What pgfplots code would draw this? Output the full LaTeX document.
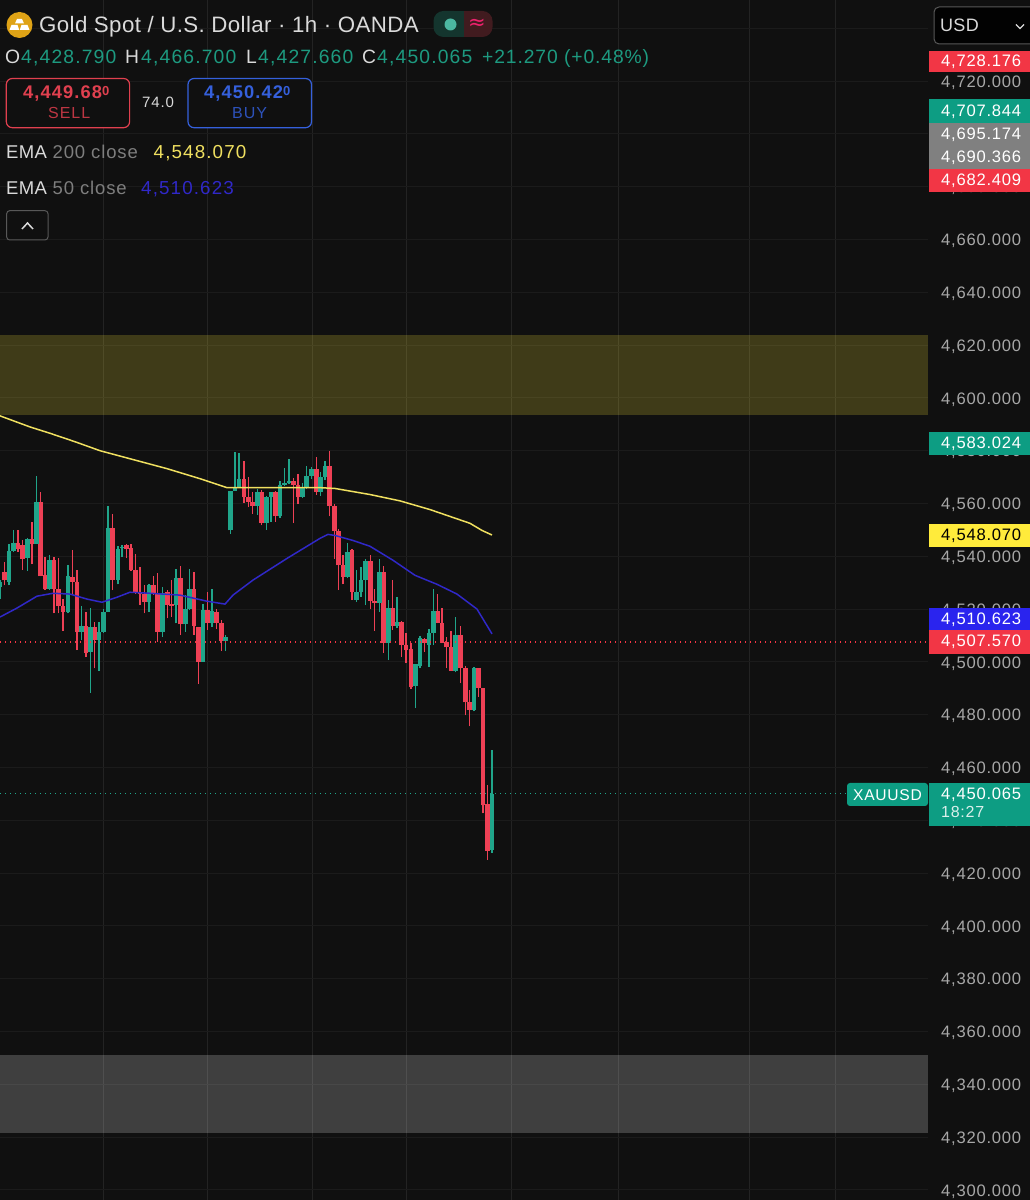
\documentclass[border=0pt]{standalone}
\usepackage{fontspec}
\usepackage{pgfplots}
\usepackage{pgfplotstable}
\pgfplotsset{compat=1.18}
\setmainfont[LetterSpace=1.7]{Liberation Sans}
\newfontfamily\pf[LetterSpace=4.6]{Liberation Sans}
\newfontfamily\nf[LetterSpace=6]{Liberation Sans}
\newfontfamily\sym{DejaVu Sans}
\definecolor{bg}{HTML}{101010}
\definecolor{gridc}{HTML}{1B1B1B}
\definecolor{vgrid}{HTML}{232323}
\definecolor{up}{HTML}{20A58A}
\definecolor{down}{HTML}{EE4055}
\definecolor{lblred}{HTML}{F23645}
\definecolor{lblgreen}{HTML}{0D9D83}
\definecolor{lblgray}{HTML}{808080}
\definecolor{lblyellow}{HTML}{FFEB3B}
\definecolor{lblblue}{HTML}{2A24EE}
\definecolor{emay}{HTML}{F0E060}
\definecolor{emab}{HTML}{3028C8}
\definecolor{ticktxt}{HTML}{A8A8A8}
\definecolor{txtgreen}{HTML}{1D9A80}
\definecolor{txtwhite}{HTML}{DADADA}
\definecolor{txtgray}{HTML}{7E7E7E}
\definecolor{gold}{HTML}{DFA316}
\definecolor{sellc}{HTML}{E0404F}
\definecolor{buyc}{HTML}{3560DC}

\pgfplotstableread{
x l h bl bh
0.0 4524.0 4530.9 4528.4 4530.3
9.0 4529.0 4544.8 4530.3 4541.9
13.3 4541.6 4549.8 4541.9 4545.2
27.3 4534.5 4547.0 4539.4 4546.4
36.3 4544.8 4570.6 4544.8 4560.4
49.7 4527.2 4540.4 4527.8 4538.5
68.0 4518.4 4536.6 4519.0 4532.4
81.7 4508.3 4521.1 4511.4 4513.6
90.3 4488.4 4520.6 4503.9 4513.3
99.0 4496.7 4515.2 4508.3 4511.4
103.7 4511.0 4520.2 4511.4 4519.0
108.0 4519.0 4559.1 4519.0 4550.8
118.0 4529.4 4543.8 4531.2 4542.9
122.0 4539.7 4544.4 4543.1 4543.5
149.0 4519.0 4529.7 4522.8 4529.3
162.3 4509.5 4528.4 4511.4 4526.2
176.0 4514.6 4535.3 4521.5 4531.9
185.3 4511.4 4525.3 4514.2 4519.9
189.7 4519.6 4535.3 4519.9 4527.8
203.0 4500.1 4522.1 4500.1 4519.6
212.0 4513.3 4527.7 4514.6 4519.4
225.7 4504.1 4510.2 4507.9 4509.3
230.5 4548.5 4564.9 4549.8 4564.9
235.0 4564.9 4579.6 4564.9 4566.2
239.0 4566.2 4579.2 4566.2 4569.1
257.3 4555.8 4565.5 4559.2 4564.5
266.7 4550.1 4563.0 4552.6 4562.6
271.0 4553.0 4564.3 4562.6 4564.3
280.0 4554.5 4568.4 4555.1 4567.0
284.3 4566.8 4573.5 4567.0 4567.7
289.0 4567.4 4576.9 4567.7 4568.7
302.3 4562.1 4567.7 4562.6 4566.4
306.7 4565.5 4574.3 4566.4 4570.6
311.7 4569.3 4574.0 4570.6 4573.1
320.7 4563.0 4571.8 4564.3 4569.9
325.0 4568.9 4576.2 4570.2 4574.3
347.7 4531.6 4545.0 4532.2 4541.6
356.7 4522.8 4535.0 4523.4 4526.5
361.0 4524.6 4536.0 4526.5 4530.9
365.7 4521.5 4539.1 4530.9 4538.2
379.3 4519.0 4539.1 4522.4 4534.1
388.3 4500.7 4523.4 4507.0 4520.3
397.0 4512.7 4524.7 4513.6 4515.2
415.3 4482.5 4499.2 4490.7 4499.2
420.0 4497.6 4509.8 4498.5 4508.9
429.0 4498.0 4512.3 4506.4 4510.8
433.3 4506.4 4527.8 4510.8 4519.4
455.7 4496.0 4517.1 4496.7 4510.2
474.0 4481.3 4498.2 4481.9 4497.6
492.0 4427.66 4466.7 4428.79 4450.065
}\greens

\pgfplotstableread{
x l h bl bh
4.7 4529.0 4537.9 4530.9 4534.1
18.0 4541.6 4550.1 4542.9 4545.2
22.7 4535.0 4546.0 4539.1 4544.1
32.0 4537.0 4553.0 4544.8 4546.4
40.7 4532.4 4564.3 4532.4 4560.4
45.0 4527.2 4539.7 4527.5 4532.8
54.0 4518.4 4539.7 4527.5 4538.5
58.7 4518.4 4539.5 4521.1 4527.5
63.0 4511.8 4524.0 4519.0 4521.1
72.7 4525.3 4542.5 4530.3 4532.2
77.0 4504.5 4534.7 4511.4 4530.3
86.0 4501.8 4519.0 4503.5 4513.6
94.7 4497.6 4515.2 4508.3 4513.3
112.7 4527.2 4555.9 4531.2 4550.8
126.7 4539.5 4544.5 4542.9 4544.1
131.0 4534.5 4544.8 4535.0 4543.1
135.7 4525.9 4540.7 4526.2 4535.0
140.0 4521.5 4536.0 4525.9 4526.2
144.3 4518.4 4529.3 4522.8 4525.9
153.3 4525.3 4532.4 4526.2 4529.0
157.7 4507.7 4533.8 4511.4 4526.2
167.3 4516.5 4527.2 4521.5 4526.5
171.7 4517.1 4531.0 4521.3 4521.8
180.7 4510.2 4536.2 4514.2 4531.9
194.0 4510.2 4534.1 4513.6 4527.8
198.7 4491.7 4513.3 4500.1 4513.3
207.7 4512.1 4526.5 4514.6 4519.6
216.7 4512.3 4519.9 4514.8 4519.0
221.3 4504.1 4515.8 4507.9 4514.8
244.0 4560.1 4576.2 4562.4 4569.1
248.3 4558.6 4569.9 4560.5 4562.4
252.7 4556.1 4564.3 4559.2 4560.7
261.7 4551.7 4565.2 4552.6 4564.5
275.7 4553.0 4564.7 4555.1 4564.3
293.3 4552.6 4569.7 4567.0 4568.7
298.0 4559.9 4571.2 4562.6 4567.0
316.3 4563.4 4577.5 4564.3 4573.1
329.7 4555.1 4579.7 4559.2 4574.3
334.3 4539.1 4559.9 4549.6 4559.2
338.7 4527.4 4550.4 4536.6 4549.6
343.0 4529.4 4540.4 4532.2 4536.6
352.0 4523.4 4542.9 4526.5 4542.3
370.3 4519.9 4540.5 4523.1 4538.2
374.7 4511.8 4527.8 4522.4 4523.1
383.7 4503.5 4536.2 4507.0 4534.1
392.7 4512.1 4531.2 4513.6 4520.3
401.7 4502.0 4515.5 4506.4 4515.2
406.0 4499.5 4510.8 4504.5 4506.4
411.0 4489.7 4507.0 4490.4 4504.8
424.3 4503.9 4508.9 4507.3 4508.6
437.7 4514.6 4525.9 4514.6 4519.4
442.0 4507.0 4520.6 4507.3 4514.6
446.7 4497.6 4509.3 4505.5 4507.7
451.0 4496.7 4511.8 4496.7 4505.5
460.7 4492.0 4513.7 4497.6 4510.2
465.3 4479.8 4498.6 4484.7 4497.6
469.7 4475.6 4489.2 4481.9 4484.7
478.7 4486.9 4497.6 4490.1 4497.6
483.0 4442.6 4490.3 4445.7 4490.1
487.3 4425.0 4453.2 4428.4 4446.0
}\reds

\newcommand\candles[2]{%
 \addplot[draw=none, no marks, forget plot, error bars/.cd, y dir=plus, y explicit, error mark=none,
   error bar style={draw=#2, line width=1.5pt}]
   table[x=x, y=l, y error plus expr=\thisrow{h}-\thisrow{l}] {#1};
 \addplot[draw=none, no marks, forget plot, error bars/.cd, y dir=plus, y explicit, error mark=none,
   error bar style={draw=#2, line width=4.6pt}]
   table[x=x, y=bl, y error plus expr=\thisrow{bh}-\thisrow{bl}] {#1};
}
\newcommand\ptag[6]{%
 \fill[#3] (929,#1) rectangle (1030,#2);
 \node[anchor=base west, inner sep=0pt, text=#4] at (941,#5) {\pf\fontsize{16.6}{18}\selectfont #6};
}
\newcommand\txt[5]{\node[anchor=base west, inner sep=0pt, text=#3] at (#1,#2) {\fontsize{#4}{#4}\selectfont #5};}

\begin{document}
\begin{tikzpicture}[x=1pt,y=1pt]
\clip (0,0) rectangle (1030pt,1200pt);
\fill[bg] (0,0) rectangle (1030pt,1200pt);
\begin{axis}[
  at={(0pt,0pt)}, anchor=south west,
  scale only axis, width=928pt, height=1200pt,
  xmin=0, xmax=928, ymin=4296.2, ymax=4750.7,
  axis line style={draw=none}, tick style={draw=none},
  clip=true,
  xtick={103,207,312,406,511,618,749,835}, xticklabels={},
  ytick={4300,4320,...,4740},
  grid=both,
  x grid style={vgrid, line width=1pt},
  y grid style={gridc, line width=1pt},
  yticklabel pos=right,
  yticklabel style={anchor=west, inner sep=0pt, xshift=13pt, yshift=-1.5pt, text=ticktxt, font=\pf\fontsize{16.6}{18}\selectfont,
    /pgf/number format/.cd, fixed, precision=3, fixed zerofill, 1000 sep={,}, assume math mode=true},
]
\addplot[fill=lblyellow, fill opacity=0.2, draw=none, forget plot] coordinates {(0,4593.5) (928,4593.5) (928,4623.8) (0,4623.8)} -- cycle;
\addplot[fill=white, fill opacity=0.2, draw=none, forget plot] coordinates {(0,4321.5) (928,4321.5) (928,4351.1) (0,4351.1)} -- cycle;

\candles{\reds}{down}
\candles{\greens}{up}

\addplot[emay, line width=1.5pt, forget plot] coordinates {
(0,4593.2) (30,4589.0) (50,4586.6) (75,4583.4) (100,4580.0) (167,4573.2) (200,4569.4) (227,4566.0) (250,4566.0) (320,4566.0) (335,4565.7) (370,4563.4) (400,4561.0) (430,4557.7) (470,4552.5) (482,4549.8) (492,4548.07)
};
\addplot[emab, line width=1.5pt, forget plot] coordinates {
(0,4517.0) (17,4520.4) (37,4524.9) (53,4526.0) (70,4525.7) (87,4523.8) (102,4522.6) (117,4524.5) (130,4526.4) (150,4526.0) (180,4525.3) (207,4523.0) (225,4521.9) (233,4525.3) (253,4531.0) (287,4539.2) (320,4546.8) (328,4548.3) (335,4547.9) (353,4546.0) (370,4543.8) (393,4538.5) (415,4532.8) (437,4529.4) (457,4525.7) (477,4520.0) (485,4515.0) (492,4510.623)
};
\addplot[lblred, line width=1.2pt, dash pattern=on 1.2pt off 3.8pt, forget plot] coordinates {(0,4507.57) (928,4507.57)};
\addplot[up, line width=1.2pt, dash pattern=on 1.2pt off 3.8pt, forget plot] coordinates {(0,4450.065) (847,4450.065)};
\end{axis}

\begin{scope}[yscale=-1, yshift=-1200pt]
% --- right-hand tags
\ptag{51}{72}{lblred}{white}{67}{4,728.176}
\ptag{99}{123}{lblgreen}{white}{116.5}{4,707.844}
\ptag{123}{146}{lblgray}{white}{140}{4,695.174}
\ptag{146}{169}{lblgray}{white}{162.5}{4,690.366}
\ptag{169}{192}{lblred}{white}{186}{4,682.409}
\ptag{432}{455}{lblgreen}{white}{449}{4,583.024}
\ptag{524}{547}{lblyellow}{black}{541}{4,548.070}
\ptag{608}{630}{lblblue}{white}{625}{4,510.623}
\ptag{630}{654}{lblred}{white}{647}{4,507.570}
\ptag{783}{826}{lblgreen}{white}{799.5}{4,450.065}
\node[anchor=base west, inner sep=0pt, text=white!85!lblgreen] at (941,818) {\pf\fontsize{16}{18}\selectfont 18:27};
\fill[lblgreen, rounded corners=3pt] (847,783) rectangle (928,806);
\node[anchor=base west, inner sep=0pt, text=white] at (853,800.5) {\pf\fontsize{15.6}{18}\selectfont XAUUSD};
% --- USD box
\draw[fill=black!85!bg, draw=white!30!bg, line width=1pt, rounded corners=5pt] (934,7) rectangle (1036,44);
\txt{940}{32}{txtwhite}{18}{USD}
\draw[txtwhite, line width=1.3pt] (1016,24.5) -- (1020,28.5) -- (1024,24.5);
% --- header
\fill[gold] (19.5,25) circle (13);
\fill[white] (17,19) -- (22,19) -- (24,23.5) -- (15,23.5) -- cycle;
\fill[white] (11.5,25) -- (17.5,25) -- (19.2,30) -- (9.5,30) -- cycle;
\fill[white] (21.5,25) -- (27.5,25) -- (29.5,30) -- (19.8,30) -- cycle;
\txt{39}{33}{txtwhite}{22.3}{Gold Spot / U.S. Dollar · 1h · OANDA}
\fill[up!25!bg, rounded corners=10pt] (433.5,11) rectangle (464,37);
\fill[up!25!bg] (455,11) rectangle (464,37);
\fill[down!22!bg, rounded corners=10pt] (464,11) rectangle (492.5,37);
\fill[down!22!bg] (464,11) rectangle (473,37);
\fill[up!80!white] (450.5,24.5) circle (6);
\node[text=magenta!60!red!90!white, inner sep=0pt] at (477,24.5) {\sym\fontsize{21}{21}\selectfont ≈};
% OHLC
\txt{5}{64}{txtwhite}{19.3}{O}
\txt{21}{64}{txtgreen}{19.3}{\nf 4,428.790}
\txt{125}{64}{txtwhite}{19.3}{H}
\txt{141}{64}{txtgreen}{19.3}{\nf 4,466.700}
\txt{246}{64}{txtwhite}{19.3}{L}
\txt{258}{64}{txtgreen}{19.3}{\nf 4,427.660}
\txt{362}{64}{txtwhite}{19.3}{C}
\txt{377}{64}{txtgreen}{19.3}{\nf 4,450.065}
\txt{482}{64}{txtgreen}{19.3}{\pf +21.270 (+0.48\%)}
% sell / buy
\draw[sellc, line width=1.2pt, fill=bg, rounded corners=6pt] (6.3,78.5) rectangle (129.6,127.7);
\draw[buyc, line width=1.2pt, fill=bg, rounded corners=6pt] (188,78.5) rectangle (311.5,127.7);
\txt{23}{98.7}{sellc}{18.3}{\nf\bfseries 4,449.68\raisebox{3pt}{\fontsize{13}{13}\selectfont 0}}
\txt{48}{119}{sellc!85!black}{16}{\nf SELL}
\txt{142}{107.7}{txtwhite}{15}{\nf 74.0}
\txt{204}{98.7}{buyc}{18.3}{\nf\bfseries 4,450.42\raisebox{3pt}{\fontsize{13}{13}\selectfont 0}}
\txt{232}{119}{buyc!85!black}{16}{\nf BUY}
% EMA lines
\txt{6}{159}{txtwhite}{18.5}{EMA}
\txt{52.5}{159}{txtgray}{18.5}{\pf 200 close}
\txt{153.5}{159}{emay}{18.8}{\nf 4,548.070}
\txt{6}{194.5}{txtwhite}{18.5}{EMA}
\txt{52.5}{194.5}{txtgray}{18.5}{\pf 50 close}
\txt{141}{194.5}{emab}{18.8}{\nf 4,510.623}
% collapse button
\draw[white!30!bg, line width=1pt, rounded corners=3pt] (6.7,210.7) rectangle (48,240);
\draw[txtwhite, line width=1.5pt] (22,229) -- (27.5,223) -- (33,229);
\end{scope}
\end{tikzpicture}
\end{document}
